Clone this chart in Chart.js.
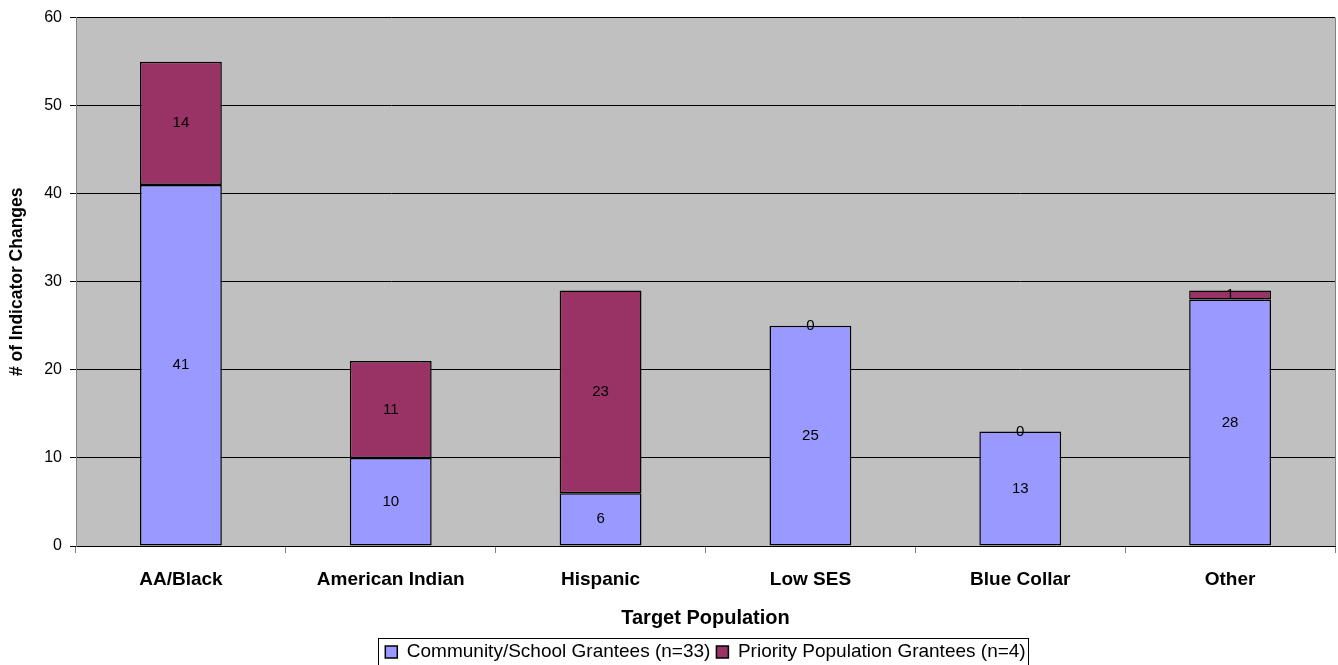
<!DOCTYPE html>
<html><head><meta charset="utf-8">
<script src="https://cdn.jsdelivr.net/npm/chart.js@4/dist/chart.umd.min.js"></script>
<style>html,body{margin:0;padding:0;background:#fff}#wrap{width:1338px;height:665px}</style>
</head><body><div id="wrap"><canvas id="c" width="1338" height="665"></canvas></div>
<script>
const categories = ["AA/Black","American Indian","Hispanic","Low SES","Blue Collar","Other"];
const communitySchool = [41,10,6,25,13,28];
const priorityPopulation = [14,11,23,0,0,1];
const yTicks = [0,10,20,30,40,50,60];
const seriesNames = ["Community/School Grantees (n=33)","Priority Population Grantees (n=4)"];

const FONT = "'Liberation Sans', Arial, sans-serif";
const LEGEND_FONT = 19;
const LEGEND_PAD = 6;

const bgPlugin = {
  id:'bg',
  afterLayout(chart){
    const lg = chart.legend, a = chart.chartArea;
    lg.left = a.left; lg.right = a.right; lg.width = a.right - a.left;
    const d = 652 - (lg.top + LEGEND_PAD + LEGEND_FONT/2);
    lg.top += d; lg.bottom += d;
  },
  beforeDraw(chart){
    const {ctx, chartArea:a} = chart;
    ctx.save();
    ctx.fillStyle='#fff';ctx.fillRect(0,0,chart.width,chart.height);
    ctx.fillStyle='#C0C0C0';
    ctx.fillRect(a.left,a.top,a.right-a.left,a.bottom-a.top);
    ctx.restore();
  },
  afterDraw(chart){
    const {ctx, chartArea:a} = chart;
    ctx.save();
    ctx.strokeStyle='#808080';ctx.lineWidth=1;
    ctx.beginPath();
    ctx.moveTo(Math.round(a.right)+0.5,a.top);ctx.lineTo(Math.round(a.right)+0.5,a.bottom);
    ctx.stroke();
    const lg = chart.legend;
    const hb = lg.legendHitBoxes || [];
    if (hb.length){
      const l = Math.min(...hb.map(h=>h.left)) - 7;
      const r = Math.max(...hb.map(h=>h.left+h.width)) + 3;
      const t = 652 - 14;
      ctx.strokeStyle='#000';
      ctx.strokeRect(Math.round(l)+0.5, t+0.5, Math.round(r-l), 40);
    }
    ctx.restore();
  }
};

const labelPlugin = {
  id:'vals',
  afterDatasetsDraw(chart){
    const ctx = chart.ctx;
    ctx.save();
    ctx.font = "15px " + FONT;
    ctx.fillStyle = '#000';
    ctx.textAlign='center';ctx.textBaseline='middle';
    chart.data.datasets.forEach((ds,i)=>{
      const meta = chart.getDatasetMeta(i);
      meta.data.forEach((el,j)=>{
        const p = el.getCenterPoint();
        ctx.fillText(String(ds.data[j]), p.x, p.y);
      });
    });
    ctx.restore();
  }
};

new Chart(document.getElementById('c'),{
  type:'bar',
  data:{
    labels:categories,
    datasets:[
      {label:seriesNames[0],data:communitySchool,backgroundColor:'#9999FF',borderColor:'#000',borderWidth:1.5,borderSkipped:false,inflateAmount:0,barPercentage:0.39,categoryPercentage:1},
      {label:seriesNames[1],data:priorityPopulation,backgroundColor:'#993366',borderColor:'#000',borderWidth:1.5,borderSkipped:false,inflateAmount:0,barPercentage:0.39,categoryPercentage:1}
    ]
  },
  options:{
    responsive:false,animation:false,
    layout:{padding:{left:0,right:3,top:16,bottom:0}},
    plugins:{
      legend:{position:'bottom',labels:{font:{family:FONT,size:LEGEND_FONT},color:'#000',boxWidth:12,boxHeight:12,padding:LEGEND_PAD}},
      tooltip:{enabled:false}
    },
    scales:{
      x:{
        stacked:true,
        grid:{offset:true,drawOnChartArea:false,drawTicks:true,tickLength:7,color:'#808080'},
        border:{color:'#000',width:1},
        ticks:{font:{family:FONT,size:19,weight:'bold'},color:'#000',padding:15,maxRotation:0},
        title:{display:true,text:'Target Population',font:{family:FONT,size:20,weight:'bold'},color:'#000',padding:{top:0,bottom:0}},
        afterFit(s){s.height=84;}
      },
      y:{
        stacked:true,min:0,max:60,
        afterBuildTicks(s){s.ticks=yTicks.map(v=>({value:v}));},
        grid:{color:'#000',tickLength:6,drawTicks:true},
        border:{color:'#808080',width:1},
        ticks:{font:{family:FONT,size:16},color:'#000',padding:8},
        title:{display:true,text:'# of Indicator Changes',font:{family:FONT,size:17.5,weight:'bold'},color:'#000',padding:{top:7,bottom:0}},
        afterFit(s){s.width=76;}
      }
    }
  },
  plugins:[bgPlugin,labelPlugin]
});
</script></body></html>
